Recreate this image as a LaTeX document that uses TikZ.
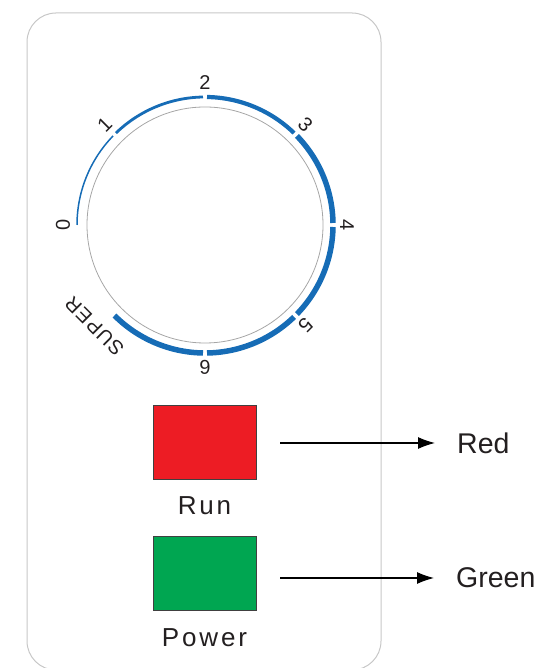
\documentclass[tikz,border=0pt]{standalone}
\usepackage{fontspec}
\setmainfont{Liberation Sans}
\usetikzlibrary{positioning,arrows.meta,calc}
\definecolor{dialblue}{RGB}{22,108,182}
\definecolor{lampred}{RGB}{237,28,36}
\definecolor{lampgreen}{RGB}{0,166,81}
\definecolor{inkgray}{RGB}{35,31,32}
\begin{document}
\begin{tikzpicture}[x=1pt,y=1pt,
    panel/.style={draw=black!22,line width=1pt,rounded corners=29pt},
    lamp/.style={draw=black!75,line width=0.9pt,minimum width=103pt,minimum height=74pt,inner sep=0pt},
    lamplbl/.style={inner sep=0pt,text=inkgray,font=\fontsize{26}{26}\selectfont\addfontfeatures{LetterSpace=11}},
    colorlbl/.style={inner sep=0pt,anchor=west,text=inkgray,font=\fontsize{28.5}{28.5}\selectfont},
    dialnum/.style={inner sep=0pt,text=inkgray,font=\fontsize{20}{20}\selectfont},
    pointer/.style={line width=1.2pt,-{Latex[length=17pt,width=12pt]}}]
    \useasboundingbox (0,0) rectangle (537,668);
    \draw[panel] (27,655) rectangle (381,-2);
    \begin{scope}[shift={(205,443)}]
        \draw[black!35,line width=0.8pt] (0,0) circle[radius=118];
        \foreach \s/\e/\w in {180/135.9/1.5,134.1/90.9/2.8,89.1/45.9/4.2,44.1/0.9/5.5,-0.9/-44.1/5.5,-45.9/-89.1/5.5,-90.9/-135/5.5}
            \draw[dialblue,line width=\w pt] (\s:128) arc[start angle=\s,end angle=\e,radius=128];
        \foreach \t/\a in {0/180,1/135,2/90,3/45,4/0,5/-45,6/-90}
            \node[dialnum,rotate=\a-90] (num\t) at (\a:142) {\t};
        \node[dialnum,rotate=135,font=\fontsize{20}{20}\selectfont\addfontfeatures{LetterSpace=6}] (super) at (-137.5:150) {SUPER};
    \end{scope}
    \node[lamp,fill=lampred] (run) at (204.5,226) {};
    \node[lamplbl,below=17pt of run] (runlbl) {Run};
    \node[lamp,fill=lampgreen] (power) at (204.5,95) {};
    \node[lamplbl,below=18pt of power] (powerlbl) {Power};
    \node[colorlbl] (redtxt) at (457,225) {Red};
    \node[colorlbl] (greentxt) at (456,90) {Green};
    \draw[pointer] ($(redtxt.west -| run.east)+(24,0)$) -- ($(redtxt.west)+(-22,0)$);
    \draw[pointer] ($(greentxt.west -| power.east)+(24,0)$) -- ($(greentxt.west)+(-22,0)$);
\end{tikzpicture}
\end{document}
